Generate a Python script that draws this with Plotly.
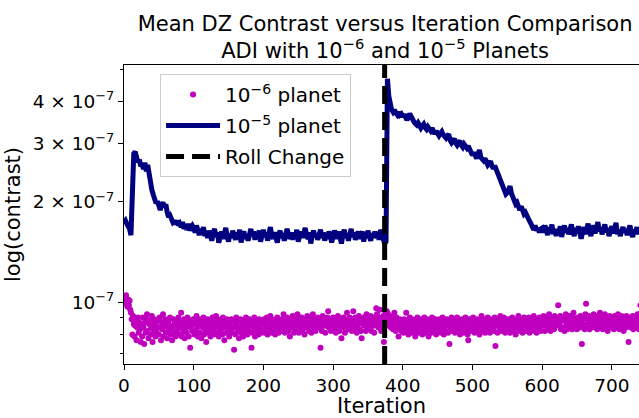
import math
import plotly.graph_objects as go

# Mean dark-zone contrast per iteration (values in units of 1e-9)
PLANET_E6_ITER = list(range(0, 743))
PLANET_E6 = [
    104, 101, 99, 105, 100, 97, 102, 98, 101, 95, 93, 89, 80, 91, 86, 79, 85, 88, 77, 84, 90, 81, 87, 83, 76,
    86, 79, 90, 84, 75, 87, 81, 89, 92, 82, 78, 86, 88, 80, 84, 91, 76, 87, 82, 89, 79, 85, 81, 88, 84,
    80, 90, 84, 77, 87, 83, 92, 79, 85, 89, 81, 86, 78, 84, 88, 82, 90, 80, 85, 77, 84, 89, 81, 87, 79,
    88, 82, 85, 90, 80, 84, 87, 93, 79, 85, 82, 89, 78, 87, 84, 81, 90, 85, 79, 88, 73, 84, 87, 82, 89,
    86, 80, 88, 82, 91, 84, 79, 87, 89, 81, 85, 78, 88, 84, 90, 80, 87, 82, 76, 85, 89, 81, 87, 84, 79,
    88, 82, 90, 85, 80, 84, 87, 91, 81, 85, 89, 79, 84, 88, 82, 87, 80, 90, 84, 77, 85, 88, 81, 89, 84,
    87, 79, 85, 82, 89, 81, 88, 84, 72, 87, 80, 90, 85, 82, 88, 78, 84, 89, 81, 87, 84, 79, 88, 85, 82,
    90, 84, 80, 87, 82, 89, 85, 88, 73, 81, 87, 84, 90, 79, 85, 88, 82, 87, 80, 89, 84, 86, 81, 88, 82,
    87, 89, 81, 85, 84, 90, 80, 88, 82, 87, 91, 84, 81, 89, 85, 82, 88, 80, 87, 84, 90, 85, 81, 88, 86,
    83, 89, 82, 87, 92, 85, 81, 88, 84, 90, 86, 82, 89, 79, 85, 88, 84, 91, 86, 81, 89, 85, 82, 88, 92,
    85, 81, 89, 86, 84, 90, 82, 88, 85, 80, 89, 86, 84, 91, 87, 82, 86, 90, 85, 81, 88, 92, 84, 86, 89,
    82, 88, 85, 90, 86, 89, 84, 73, 88, 82, 91, 86, 85, 89, 81, 88, 85, 90, 94, 84, 86, 89, 82, 88, 85,
    90, 86, 83, 89, 81, 88, 85, 91, 86, 82, 89, 85, 78, 88, 84, 90, 86, 81, 89, 85, 93, 87, 83, 86, 90,
    84, 89, 82, 88, 94, 86, 83, 90, 85, 81, 89, 86, 91, 83, 87, 82, 78, 89, 86, 90, 85, 88, 82, 92, 86,
    83, 89, 85, 88, 91, 82, 86, 90, 85, 81, 89, 86, 96, 92, 87, 84, 90, 95, 86, 82, 89, 85, 91, 76, 88,
    93, 89, 94, 87, 92, 88, 85, 91, 84, 90, 87, 83, 89, 93, 86, 82, 90, 85, 88, 79, 84, 89, 86, 82, 88,
    85, 81, 89, 83, 86, 93, 82, 88, 80, 85, 90, 84, 86, 81, 89, 85, 82, 88, 79, 86, 83, 90, 81, 85, 88,
    82, 89, 85, 80, 88, 83, 90, 81, 86, 82, 89, 85, 79, 88, 83, 86, 81, 90, 85, 82, 88, 84, 89, 80, 86,
    83, 88, 82, 89, 85, 81, 86, 90, 84, 80, 88, 85, 82, 89, 86, 81, 85, 75, 88, 83, 90, 82, 86, 85, 89,
    81, 86, 83, 90, 85, 82, 88, 80, 86, 84, 89, 85, 81, 88, 82, 90, 86, 83, 80, 77, 86, 89, 82, 85, 88,
    83, 90, 86, 81, 88, 85, 82, 89, 84, 86, 80, 88, 85, 91, 82, 86, 84, 89, 81, 85, 88, 82, 90, 86, 83,
    81, 88, 85, 89, 83, 86, 82, 90, 74, 85, 88, 81, 86, 89, 84, 91, 85, 82, 88, 86, 90, 83, 81, 89, 85,
    86, 82, 89, 85, 81, 88, 83, 90, 86, 82, 89, 85, 80, 88, 84, 86, 91, 82, 85, 89, 83, 88, 81, 86, 90,
    85, 88, 82, 89, 86, 83, 90, 81, 88, 85, 89, 84, 86, 91, 82, 88, 85, 81, 89, 86, 83, 90, 88, 82, 86,
    89, 85, 91, 86, 82, 90, 88, 83, 89, 85, 92, 86, 82, 90, 88, 84, 89, 83, 91, 86, 90, 85, 88, 98, 89,
    86, 91, 83, 89, 88, 84, 90, 82, 89, 92, 86, 83, 90, 88, 84, 91, 86, 89, 83, 90, 93, 86, 84, 89, 88,
    83, 90, 86, 89, 84, 91, 88, 75, 89, 86, 90, 83, 92, 99, 85, 89, 86, 91, 83, 90, 88, 84, 89, 86, 92,
    88, 84, 90, 86, 83, 91, 89, 86, 93, 84, 88, 90, 83, 89, 86, 92, 88, 84, 90, 82, 89, 86, 91, 88, 84,
    90, 86, 89, 83, 91, 88, 84, 90, 86, 92, 89, 83, 88, 84, 91, 86, 90, 82, 89, 88, 84, 91, 86, 89, 76,
    88, 90, 84, 89, 86, 91, 83, 88, 90, 84, 89, 86, 92, 88, 83, 90, 98, 93,
]

PLANET_E5_ITER = list(range(0, 743, 2))
PLANET_E5 = [
    174, 176, 172, 170, 166, 159, 205, 279, 283, 271,
    263, 268, 256, 259, 251, 262, 247, 258, 241, 229,
    217, 210, 203, 198, 201, 193, 189, 196, 199, 193,
    197, 186, 180, 182, 177, 174, 176, 171, 176, 170,
    172, 168, 174, 166, 170, 165, 172, 164, 168, 170,
    167, 162, 170, 164, 159, 166, 161, 168, 158, 163,
    156, 164, 159, 153, 161, 166, 157, 162, 151, 158,
    163, 155, 160, 167, 158, 152, 161, 156, 164, 159,
    154, 162, 157, 165, 151, 159, 163, 155, 160, 153,
    161, 166, 158, 163, 154, 160, 157, 164, 152, 159,
    165, 157, 162, 153, 160, 168, 159, 155, 162, 157,
    151, 159, 164, 156, 161, 153, 158, 166, 160, 155,
    162, 154, 160, 157, 165, 152, 158, 163, 156, 161,
    167, 159, 155, 162, 150, 158, 164, 157, 161, 154,
    160, 165, 156, 162, 153, 159, 155, 163, 158, 151,
    158, 164, 160, 155, 163, 157, 150, 159, 165, 156,
    161, 153, 158, 166, 157, 162, 154, 160, 163, 155,
    159, 163, 152, 160, 156, 164, 158, 153, 161, 157,
    163, 156, 160, 154, 165, 158, 155, 150, 152, 468,
    415, 384, 378, 372, 378, 370, 365, 372, 364, 367,
    360, 366, 355, 352, 358, 368, 361, 352, 348, 343,
    340, 345, 337, 333, 338, 342, 334, 330, 336, 331,
    327, 333, 324, 320, 326, 322, 316, 321, 325, 318,
    315, 311, 316, 319, 306, 301, 305, 309, 300, 296,
    301, 305, 296, 292, 298, 294, 290, 294, 286, 280,
    276, 281, 273, 270, 277, 286, 272, 268, 266, 270,
    263, 258, 261, 265, 256, 252, 257, 250, 246, 242,
    236, 228, 219, 214, 211, 213, 218, 223, 212, 206,
    202, 197, 199, 192, 189, 194, 187, 184, 186, 181,
    178, 175, 172, 168, 165, 170, 164, 167, 162, 166,
    167, 162, 170, 164, 159, 168, 163, 171, 160, 166,
    158, 165, 161, 169, 157, 164, 170, 162, 167, 160,
    166, 171, 163, 158, 167, 161, 169, 164, 155, 162,
    168, 160, 166, 172, 163, 158, 165, 170, 161, 167,
    174, 163, 168, 160, 166, 171, 162, 167, 158, 164,
    169, 161, 166, 173, 160, 165, 158, 163, 168, 162,
    166, 159, 164, 170, 161, 157, 165, 162, 168, 160,
    165, 161,
]

ROLL_CHANGE_ITER = 374
UNIT = 1e-9

X_TICKS = [0, 100, 200, 300, 400, 500, 600, 700]
Y_TICKS = [1e-7, 2e-7, 3e-7, 4e-7]
Y_TICK_TEXT = ["10<sup>−7</sup>", "2 × 10<sup>−7</sup>", "3 × 10<sup>−7</sup>", "4 × 10<sup>−7</sup>"]
Y_MINOR = [7e-8, 8e-8, 9e-8, 5e-7]
X_RANGE = [0, 739]
Y_RANGE = [6.53e-8, 5.145e-7]

FONT = "DejaVu Sans"

fig = go.Figure()

fig.add_trace(go.Scatter(
    x=PLANET_E6_ITER,
    y=[v * UNIT for v in PLANET_E6],
    mode="markers",
    marker=dict(color="#bf00bf", size=6, line=dict(width=0)),
    name="10<sup>−6</sup> planet",
    legendgroup="a",
))

fig.add_trace(go.Scatter(
    x=PLANET_E5_ITER,
    y=[v * UNIT for v in PLANET_E5],
    mode="lines",
    line=dict(color="#000080", width=5),
    name="10<sup>−5</sup> planet",
    legendgroup="b",
))

fig.add_shape(
    type="line", xref="x", yref="paper",
    x0=ROLL_CHANGE_ITER, x1=ROLL_CHANGE_ITER, y0=0, y1=1,
    line=dict(color="black", width=5, dash="18px,8px"),
    name="Roll Change", showlegend=True, legendgroup="c",
)

fig.update_layout(
    width=639, height=418,
    margin=dict(l=124, r=0, t=65, b=54),
    plot_bgcolor="white", paper_bgcolor="white",
    font=dict(family=FONT, color="black", size=18),
    title=dict(
        text="Mean DZ Contrast versus Iteration Comparison<br>ADI with 10<sup>−6</sup> and 10<sup>−5</sup> Planets",
        font=dict(size=21, family=FONT),
        x=0.507, xref="paper", xanchor="center",
        y=1, yref="paper", yanchor="bottom",
        pad=dict(b=34),
    ),
    legend=dict(
        x=0.07, y=0.97, xanchor="left", yanchor="top",
        bgcolor="rgba(255,255,255,0.8)", bordercolor="#cccccc", borderwidth=1,
        font=dict(size=20, family=FONT),
        traceorder="grouped", tracegroupgap=2,
        itemwidth=54,
    ),
    showlegend=True,
)

fig.update_xaxes(
    range=X_RANGE, tickvals=X_TICKS,
    showline=True, linecolor="black", linewidth=1, mirror=True,
    ticks="outside", ticklen=5, tickwidth=1, tickcolor="black",
    showgrid=False, zeroline=False,
    tickfont=dict(size=18.5),
    title=dict(text="Iteration", font=dict(size=21), standoff=2),
)

fig.update_yaxes(
    type="log",
    range=[math.log10(Y_RANGE[0]), math.log10(Y_RANGE[1])],
    tickvals=Y_TICKS, ticktext=Y_TICK_TEXT,
    showline=True, linecolor="black", linewidth=1,
    ticks="outside", ticklen=5, tickwidth=1, tickcolor="black",
    minor=dict(tickvals=Y_MINOR, ticks="outside", ticklen=3, tickwidth=1, tickcolor="black", showgrid=False),
    showgrid=False, zeroline=False,
    tickfont=dict(size=18.5),
    title=dict(text="log(contrast)", font=dict(size=21), standoff=6),
)

fig.write_html("out.html")
